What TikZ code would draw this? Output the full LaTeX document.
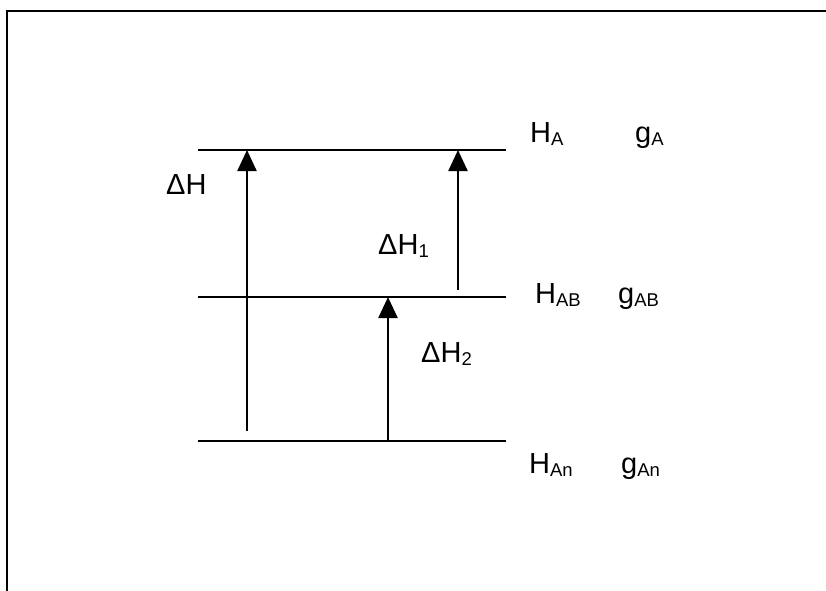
\documentclass[tikz,border=0pt]{standalone}
\usepackage{fontspec}
\setmainfont{Liberation Sans}
\usetikzlibrary{arrows.meta}
\newcommand{\lowsub}[1]{\raisebox{-3pt}{\fontsize{18.5}{18.5}\selectfont #1}}
\tikzset{
  lvl/.style={line width=2.3pt},
  up/.style={line width=2.3pt,-{Triangle[width=19pt,length=21pt]}},
  lab/.style={anchor=base west,inner sep=0pt,font=\fontsize{29}{29}\selectfont},
  frame/.style={line width=2.4pt}
}
\begin{document}
\begin{tikzpicture}[x=1pt,y=-1pt]
\useasboundingbox (0,0) rectangle (826,590);
\fill[white] (0,0) rectangle (826,590);
% frame (right and bottom edges lie outside the picture)
\draw[frame] (7,600) -- (7,11) -- (840,11);
% levels
\coordinate (A1) at (198,150); \coordinate (A2) at (506,150);
\coordinate (B1) at (198,297); \coordinate (B2) at (506,297);
\coordinate (C1) at (198,441); \coordinate (C2) at (506,441);
\draw[lvl] (A1) -- (A2);
\draw[lvl] (B1) -- (B2);
\draw[lvl] (C1) -- (C2);
% arrows
\coordinate (dHs) at (247,431); \coordinate (dHe) at (247,150);
\coordinate (dH1s) at (458,290); \coordinate (dH1e) at (458,150);
\coordinate (dH2s) at (388,441); \coordinate (dH2e) at (388,297);
\draw[up] (dHs) -- (dHe);
\draw[up] (dH1s) -- (dH1e);
\draw[up] (dH2s) -- (dH2e);
% labels
\node[lab] (ldH) at (166,194) {ΔH};
\node[lab] (ldH1) at (378,254) {ΔH\lowsub{1}};
\node[lab] (ldH2) at (421,362) {ΔH\lowsub{2}};
\node[lab] (HA) at (530,142) {H\lowsub{A}};
\node[lab] (gA) at (635,142) {g\lowsub{A}};
\node[lab] (HAB) at (535,303) {H\lowsub{AB}};
\node[lab] (gAB) at (618,303) {g\lowsub{AB}};
\node[lab] (HAn) at (529,473) {H\lowsub{An}};
\node[lab] (gAn) at (621,473) {g\lowsub{An}};
\end{tikzpicture}
\end{document}
